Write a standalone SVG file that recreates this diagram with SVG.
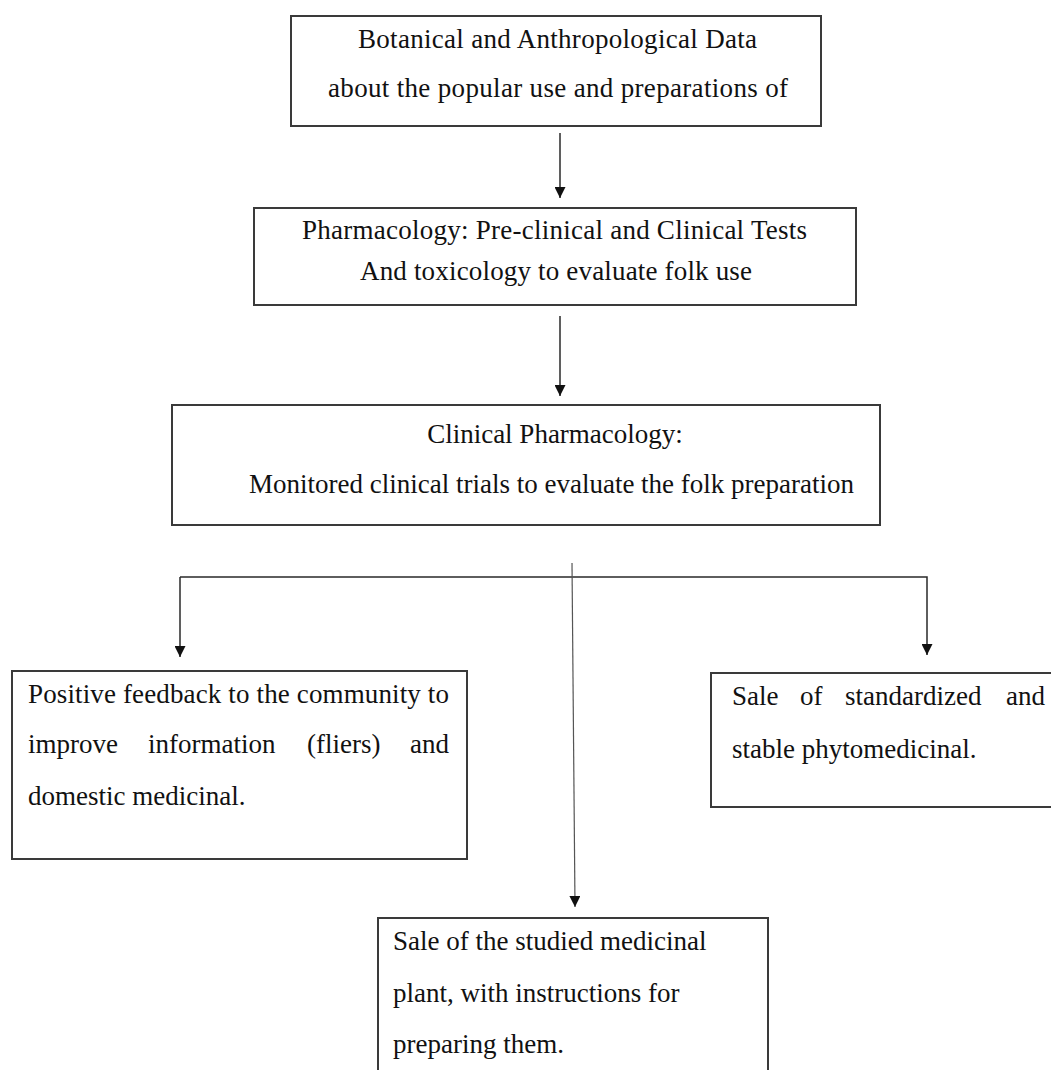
<svg xmlns="http://www.w3.org/2000/svg" width="1051" height="1070" viewBox="0 0 1051 1070">
<defs>
<style>
.box{fill:#fff;stroke:#3a3a3a;stroke-width:2}
.t{font-family:"Liberation Serif","Times New Roman",serif;font-size:27px;fill:#111}
.c{text-anchor:middle}
.e{text-anchor:end}
.con{fill:none;stroke:#2a2a2a;stroke-width:1.5}
.con2{fill:none;stroke:#555;stroke-width:1.2}
</style>
<marker id="ah" viewBox="0 0 10 10" refX="10" refY="5" markerWidth="11" markerHeight="11" markerUnits="userSpaceOnUse" orient="auto">
<path d="M0,0 L10,5 L0,10 Z" fill="#111"/>
</marker>
</defs>
<rect width="1051" height="1070" fill="#fff"/>

<g id="connectors">
<line class="con" x1="560" y1="133" x2="560" y2="198" marker-end="url(#ah)"/>
<line class="con" x1="560" y1="316" x2="560" y2="396" marker-end="url(#ah)"/>
<polyline class="con" points="180,577 927,577 927,655" marker-end="url(#ah)"/>
<line class="con" x1="180" y1="577" x2="180" y2="657" marker-end="url(#ah)"/>
<line class="con2" x1="572" y1="563" x2="575" y2="907" marker-end="url(#ah)"/>
</g>

<g id="node1">
<rect class="box" x="291" y="16" width="530" height="110"/>
<text class="t" x="358" y="48" textLength="399" lengthAdjust="spacing">Botanical and Anthropological Data</text>
<text class="t" x="328" y="97" textLength="460" lengthAdjust="spacing">about the popular use and preparations of</text>
</g>

<g id="node2">
<rect class="box" x="254" y="208" width="602" height="97"/>
<text class="t" x="302" y="239" textLength="505" lengthAdjust="spacing">Pharmacology: Pre-clinical and Clinical Tests</text>
<text class="t" x="360" y="280" textLength="392" lengthAdjust="spacing">And toxicology to evaluate folk use</text>
</g>

<g id="node3">
<rect class="box" x="172" y="405" width="708" height="120"/>
<text class="t c" x="555" y="443">Clinical Pharmacology:</text>
<text class="t" x="249" y="493">Monitored clinical trials to evaluate the folk preparation</text>
</g>

<g id="node4">
<rect class="box" x="12" y="671" width="455" height="188"/>
<text class="t" x="28" y="703" textLength="421" lengthAdjust="spacing">Positive feedback to the community to</text>
<text class="t" x="28" y="753">improve</text>
<text class="t" x="148" y="753">information</text>
<text class="t" x="307" y="753">(fliers)</text>
<text class="t e" x="449" y="753">and</text>
<text class="t" x="28" y="805">domestic medicinal.</text>
</g>

<g id="node5">
<rect class="box" x="711" y="673" width="345" height="134"/>
<text class="t" x="732" y="705">Sale</text>
<text class="t" x="800" y="705">of</text>
<text class="t" x="845" y="705">standardized</text>
<text class="t e" x="1045" y="705">and</text>
<text class="t" x="732" y="758">stable phytomedicinal.</text>
</g>

<g id="node6">
<rect class="box" x="378" y="918" width="390" height="160"/>
<text class="t" x="393" y="950">Sale of the studied medicinal</text>
<text class="t" x="393" y="1002">plant, with instructions for</text>
<text class="t" x="393" y="1053">preparing them.</text>
</g>
</svg>
